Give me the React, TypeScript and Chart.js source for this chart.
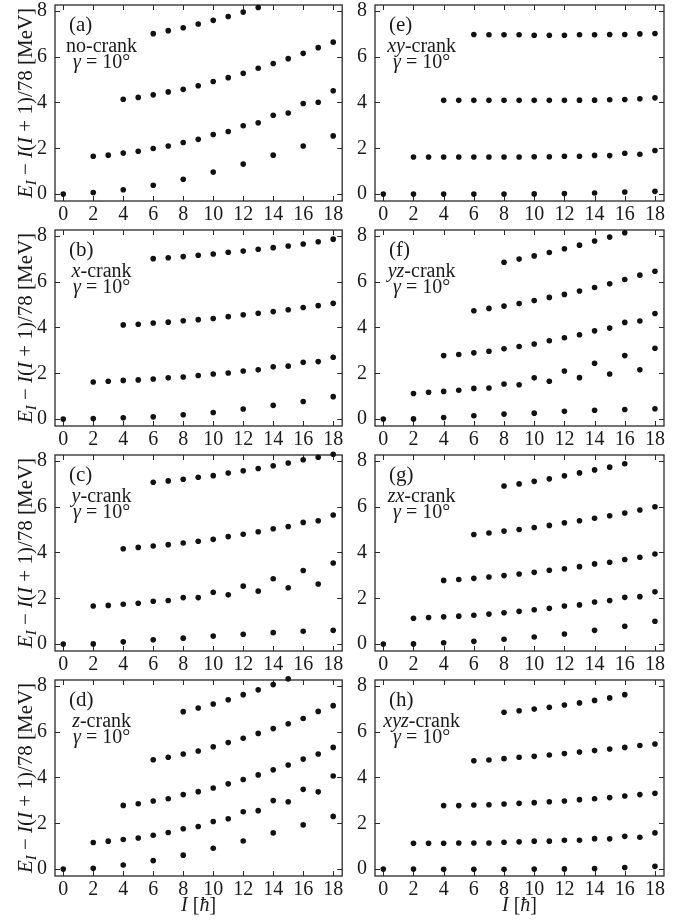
import React, { useEffect, useRef } from "react";
import { Chart, registerables } from "chart.js";

Chart.register(...registerables);

const FONT = '"Liberation Serif", "DejaVu Serif", serif';
const TEXT = "#1a1a1a";
const DOT = "#111";

// spin values I
const allSpins = [0, 1, 2, 3, 4, 5, 6, 7, 8, 9, 10, 11, 12, 13, 14, 15, 16, 17, 18];
const evenSpins = [0, 2, 4, 6, 8, 10, 12, 14, 16, 18];
const xTickValues = [0, 2, 4, 6, 8, 10, 12, 14, 16, 18];
const yTickValues = [0, 2, 4, 6, 8];

// (a) no-crank
const a1 = [0, 0.07, 0.19, 0.39, 0.65, 0.96, 1.31, 1.7, 2.1, 2.54];
const a2 = [1.65, 1.7, 1.79, 1.87, 1.99, 2.1, 2.25, 2.39, 2.6, 2.73, 2.98, 3.11, 3.44, 3.54, 3.95, 4.01, 4.51];
const a3 = [4.14, 4.22, 4.33, 4.46, 4.57, 4.73, 4.91, 5.08, 5.27, 5.49, 5.7, 5.91, 6.14, 6.39, 6.63];
const a4 = [7.0, 7.13, 7.26, 7.42, 7.58, 7.75, 7.94, 8.14];
// (b) x-crank
const b1 = [0, 0.03, 0.06, 0.1, 0.19, 0.29, 0.44, 0.6, 0.77, 0.98];
const b2 = [1.62, 1.65, 1.69, 1.71, 1.75, 1.8, 1.84, 1.9, 1.97, 2.01, 2.1, 2.15, 2.28, 2.31, 2.48, 2.51, 2.7];
const b3 = [4.11, 4.14, 4.19, 4.23, 4.29, 4.34, 4.39, 4.47, 4.55, 4.62, 4.69, 4.77, 4.87, 4.95, 5.05];
const b4 = [7.0, 7.04, 7.09, 7.15, 7.2, 7.28, 7.33, 7.41, 7.48, 7.55, 7.64, 7.74, 7.85];
// (c) y-crank
const c1 = [0, 0.01, 0.1, 0.19, 0.26, 0.35, 0.43, 0.5, 0.56, 0.6];
const c2 = [1.66, 1.69, 1.74, 1.78, 1.87, 1.9, 2.03, 2.03, 2.26, 2.15, 2.53, 2.31, 2.85, 2.46, 3.21, 2.62, 3.54];
const c3 = [4.16, 4.22, 4.28, 4.34, 4.41, 4.49, 4.57, 4.69, 4.79, 4.9, 5.03, 5.13, 5.31, 5.38, 5.63];
const c4 = [7.06, 7.12, 7.19, 7.28, 7.35, 7.46, 7.56, 7.66, 7.78, 7.9, 8.04, 8.15, 8.28];
// (d) z-crank
const d1 = [0, 0.04, 0.18, 0.37, 0.61, 0.91, 1.23, 1.58, 1.93, 2.3];
const d2 = [1.16, 1.22, 1.29, 1.36, 1.48, 1.6, 1.76, 1.86, 2.08, 2.2, 2.5, 2.55, 2.99, 2.94, 3.48, 3.37, 4.06];
const d3 = [2.78, 2.85, 2.97, 3.07, 3.25, 3.38, 3.54, 3.72, 3.91, 4.11, 4.33, 4.54, 4.8, 5.02, 5.31];
const d4 = [4.77, 4.88, 5.02, 5.15, 5.34, 5.52, 5.71, 5.92, 6.13, 6.34, 6.57, 6.88, 7.13];
const d5 = [6.87, 7.03, 7.2, 7.39, 7.61, 7.82, 8.05, 8.3];
// (e) xy-crank
const e1 = [0, 0, 0, 0, 0, 0.01, 0.03, 0.05, 0.09, 0.12];
const e2 = [1.62, 1.62, 1.62, 1.62, 1.62, 1.62, 1.62, 1.62, 1.63, 1.63, 1.65, 1.65, 1.69, 1.68, 1.78, 1.74, 1.9];
const e3 = [4.09, 4.09, 4.09, 4.09, 4.09, 4.09, 4.09, 4.09, 4.09, 4.1, 4.1, 4.12, 4.13, 4.16, 4.2];
const e4 = [6.96, 6.95, 6.95, 6.95, 6.93, 6.93, 6.93, 6.95, 6.95, 6.96, 6.96, 6.99, 7.01];
// (f) yz-crank
const f1 = [0, 0.01, 0.07, 0.15, 0.22, 0.26, 0.34, 0.39, 0.42, 0.45];
const f2 = [1.12, 1.17, 1.21, 1.26, 1.34, 1.36, 1.53, 1.5, 1.8, 1.65, 2.1, 1.81, 2.44, 1.97, 2.77, 2.15, 3.09];
const f3 = [2.77, 2.82, 2.89, 2.96, 3.07, 3.17, 3.28, 3.42, 3.55, 3.68, 3.85, 3.97, 4.22, 4.28, 4.61];
const f4 = [4.73, 4.83, 4.93, 5.04, 5.17, 5.31, 5.44, 5.59, 5.74, 5.9, 6.09, 6.28, 6.45];
const f5 = [6.84, 6.98, 7.12, 7.27, 7.43, 7.59, 7.77, 7.94, 8.13];
// (g) zx-crank
const g1 = [0, 0.01, 0.06, 0.12, 0.21, 0.31, 0.44, 0.6, 0.78, 1.0];
const g2 = [1.13, 1.16, 1.19, 1.22, 1.26, 1.31, 1.37, 1.43, 1.5, 1.56, 1.66, 1.71, 1.84, 1.9, 2.04, 2.07, 2.28];
const g3 = [2.78, 2.82, 2.87, 2.93, 2.99, 3.06, 3.13, 3.22, 3.29, 3.38, 3.5, 3.57, 3.69, 3.79, 3.93];
const g4 = [4.78, 4.85, 4.93, 5.0, 5.09, 5.18, 5.29, 5.38, 5.49, 5.6, 5.72, 5.85, 5.99];
const g5 = [6.9, 6.99, 7.1, 7.21, 7.34, 7.47, 7.6, 7.72, 7.87];
// (h) xyz-crank
const h1 = [0, 0, -0.01, -0.01, -0.01, 0, 0.01, 0.03, 0.07, 0.12];
const h2 = [1.13, 1.13, 1.13, 1.14, 1.14, 1.14, 1.17, 1.19, 1.22, 1.22, 1.26, 1.26, 1.33, 1.32, 1.43, 1.39, 1.58];
const h3 = [2.77, 2.77, 2.8, 2.81, 2.84, 2.87, 2.9, 2.94, 2.97, 3.03, 3.07, 3.12, 3.19, 3.25, 3.31];
const h4 = [4.73, 4.76, 4.82, 4.88, 4.92, 4.98, 5.04, 5.11, 5.17, 5.24, 5.31, 5.39, 5.46];
const h5 = [6.84, 6.91, 6.98, 7.06, 7.16, 7.25, 7.36, 7.47, 7.61];

type Pt = { x: number; y: number };
const evenPts = (vals: number[]): Pt[] => vals.map((y, i) => ({ x: evenSpins[i], y }));
const fromSpin = (start: number, vals: number[]): Pt[] =>
  vals.map((y, i) => ({ x: allSpins[start + i], y }));

type PanelDef = {
  tag: string;
  axis: string;
  rest: string;
  col: number;
  row: number;
  series: Pt[][];
};

const panels: PanelDef[] = [
  { tag: "(a)", axis: "", rest: "no-crank", col: 0, row: 0, series: [evenPts(a1), fromSpin(2, a2), fromSpin(4, a3), fromSpin(6, a4)] },
  { tag: "(b)", axis: "x", rest: "-crank", col: 0, row: 1, series: [evenPts(b1), fromSpin(2, b2), fromSpin(4, b3), fromSpin(6, b4)] },
  { tag: "(c)", axis: "y", rest: "-crank", col: 0, row: 2, series: [evenPts(c1), fromSpin(2, c2), fromSpin(4, c3), fromSpin(6, c4)] },
  { tag: "(d)", axis: "z", rest: "-crank", col: 0, row: 3, series: [evenPts(d1), fromSpin(2, d2), fromSpin(4, d3), fromSpin(6, d4), fromSpin(8, d5)] },
  { tag: "(e)", axis: "xy", rest: "-crank", col: 1, row: 0, series: [evenPts(e1), fromSpin(2, e2), fromSpin(4, e3), fromSpin(6, e4)] },
  { tag: "(f)", axis: "yz", rest: "-crank", col: 1, row: 1, series: [evenPts(f1), fromSpin(2, f2), fromSpin(4, f3), fromSpin(6, f4), fromSpin(8, f5)] },
  { tag: "(g)", axis: "zx", rest: "-crank", col: 1, row: 2, series: [evenPts(g1), fromSpin(2, g2), fromSpin(4, g3), fromSpin(6, g4), fromSpin(8, g5)] },
  { tag: "(h)", axis: "xyz", rest: "-crank", col: 1, row: 3, series: [evenPts(h1), fromSpin(2, h2), fromSpin(4, h3), fromSpin(6, h4), fromSpin(8, h5)] },
];

type Seg = { t: string; it?: boolean; size?: number; dy?: number };

function fontOf(s: Seg, base: number) {
  return `${s.it ? "italic " : ""}${s.size ?? base}px ${FONT}`;
}

function drawSegs(ctx: CanvasRenderingContext2D, segs: Seg[], x: number, y: number, align: "left" | "center", base: number) {
  const widths = segs.map((s) => {
    ctx.font = fontOf(s, base);
    return ctx.measureText(s.t).width;
  });
  const total = widths.reduce((a, b) => a + b, 0);
  let cx = align === "center" ? x - total / 2 : x;
  ctx.textAlign = "left";
  ctx.textBaseline = "alphabetic";
  segs.forEach((s, i) => {
    ctx.font = fontOf(s, base);
    ctx.fillText(s.t, cx, y + (s.dy ?? 0));
    cx += widths[i];
  });
  return total;
}

const ROW_TOPS = [5, 230, 455, 680];
const PANEL_H = 196;
const COL_LEFT = [0, 345];
const COL_W = [345, 344];
const FRAME_LEFT_IN_CANVAS = [55, 30];
const PAD_RIGHT = [2, 25];

function Panel({ p }: { p: PanelDef }) {
  const ref = useRef<HTMLCanvasElement>(null);
  const isBottom = p.row === 3;
  const canvasTop = ROW_TOPS[p.row] - 5;
  const canvasH = isBottom ? 920 - canvasTop : 225;
  const canvasW = COL_W[p.col];
  const xAxisH = canvasH - 5 - PANEL_H;

  useEffect(() => {
    const frame = {
      id: "frame" + p.tag,
      beforeDatasetsDraw(chart: any) {
        const { ctx, chartArea: a, scales } = chart;
        ctx.save();
        ctx.strokeStyle = "#2a2a2a";
        ctx.lineWidth = 1.3;
        ctx.strokeRect(a.left, a.top, a.right - a.left, a.bottom - a.top);
        ctx.lineWidth = 1;
        ctx.beginPath();
        const tl = 5;
        xTickValues.forEach((v) => {
          const px = Math.round(scales.x.getPixelForValue(v)) + 0.5;
          ctx.moveTo(px, a.bottom);
          ctx.lineTo(px, a.bottom - tl);
          ctx.moveTo(px, a.top);
          ctx.lineTo(px, a.top + tl);
        });
        yTickValues.forEach((v) => {
          const py = Math.round(scales.y.getPixelForValue(v)) + 0.5;
          ctx.moveTo(a.left, py);
          ctx.lineTo(a.left + tl, py);
          ctx.moveTo(a.right, py);
          ctx.lineTo(a.right - tl, py);
        });
        ctx.stroke();
        ctx.restore();
      },
      afterDraw(chart: any) {
        const { ctx, chartArea: a } = chart;
        ctx.save();
        ctx.fillStyle = TEXT;
        const size = 20;
        // panel tag
        drawSegs(ctx, [{ t: p.tag }], a.left + 14, a.top + 26, "left", 21);
        // gamma line
        const gSegs: Seg[] = [{ t: "γ", it: true }, { t: " = 10°" }];
        const gx = a.left + 18;
        const gw = drawSegs(ctx, gSegs, gx, a.top + 63, "left", size);
        const crankSegs: Seg[] = p.axis ? [{ t: p.axis, it: true }, { t: p.rest }] : [{ t: p.rest }];
        drawSegs(ctx, crankSegs, gx + gw / 2, a.top + 47, "center", size);
        // y-axis title (left column only)
        if (p.col === 0) {
          ctx.save();
          ctx.translate(32, (a.top + a.bottom) / 2);
          ctx.rotate(-Math.PI / 2);
          drawSegs(
            ctx,
            [
              { t: "E", it: true },
              { t: "I", it: true, size: 15, dy: 4 },
              { t: " − " },
              { t: "I", it: true },
              { t: "(" },
              { t: "I", it: true },
              { t: " + 1)/78 [MeV]" },
            ],
            0,
            0,
            "center",
            21
          );
          ctx.restore();
        }
        // x-axis title (bottom row only)
        if (isBottom) {
          drawSegs(
            ctx,
            [{ t: "I", it: true }, { t: " [" }, { t: "ħ", it: true }, { t: "]" }],
            (a.left + a.right) / 2,
            a.bottom + 35,
            "center",
            size
          );
        }
        ctx.restore();
      },
    };

    const chart = new Chart(ref.current as HTMLCanvasElement, {
      type: "scatter",
      data: {
        datasets: p.series.map((pts) => ({
          data: pts,
          pointRadius: 2.8,
          pointHoverRadius: 2.8,
          pointBackgroundColor: DOT,
          pointBorderWidth: 0,
          showLine: false,
          clip: false as any,
        })),
      },
      options: {
        responsive: false,
        animation: false,
        devicePixelRatio: 1,
        events: [],
        layout: { padding: { top: 5, right: PAD_RIGHT[p.col], left: 0, bottom: 0 } },
        plugins: { legend: { display: false }, tooltip: { enabled: false }, title: { display: false } },
        scales: {
          x: {
            type: "linear",
            min: -0.55,
            max: 18.6,
            grid: { display: false, drawTicks: false, tickLength: 0 },
            border: { display: false },
            afterBuildTicks: (s: any) => {
              s.ticks = xTickValues.map((v) => ({ value: v }));
            },
            afterFit: (s: any) => {
              s.height = xAxisH;
              s.paddingLeft = 0;
              s.paddingRight = 0;
            },
            ticks: {
              autoSkip: false,
              maxRotation: 0,
              padding: 2,
              color: TEXT,
              font: { family: FONT, size: 20 },
            },
          },
          y: {
            type: "linear",
            min: -0.3,
            max: 8.25,
            grid: { display: false, drawTicks: false, tickLength: 0 },
            border: { display: false },
            afterBuildTicks: (s: any) => {
              s.ticks = yTickValues.map((v) => ({ value: v }));
            },
            afterFit: (s: any) => {
              s.width = FRAME_LEFT_IN_CANVAS[p.col];
              s.paddingTop = 0;
              s.paddingBottom = 0;
            },
            ticks: {
              autoSkip: false,
              padding: 8,
              color: TEXT,
              font: { family: FONT, size: 20 },
            },
          },
        },
      },
      plugins: [frame as any],
    });
    return () => chart.destroy();
  }, []);

  return (
    <canvas
      ref={ref}
      width={canvasW}
      height={canvasH}
      style={{ position: "absolute", left: COL_LEFT[p.col], top: canvasTop, width: canvasW, height: canvasH }}
    />
  );
}

export default function App() {
  return (
    <div style={{ position: "absolute", left: 0, top: 0, width: 689, height: 920, background: "#fff" }}>
      {panels.map((p) => (
        <Panel key={p.tag} p={p} />
      ))}
    </div>
  );
}
